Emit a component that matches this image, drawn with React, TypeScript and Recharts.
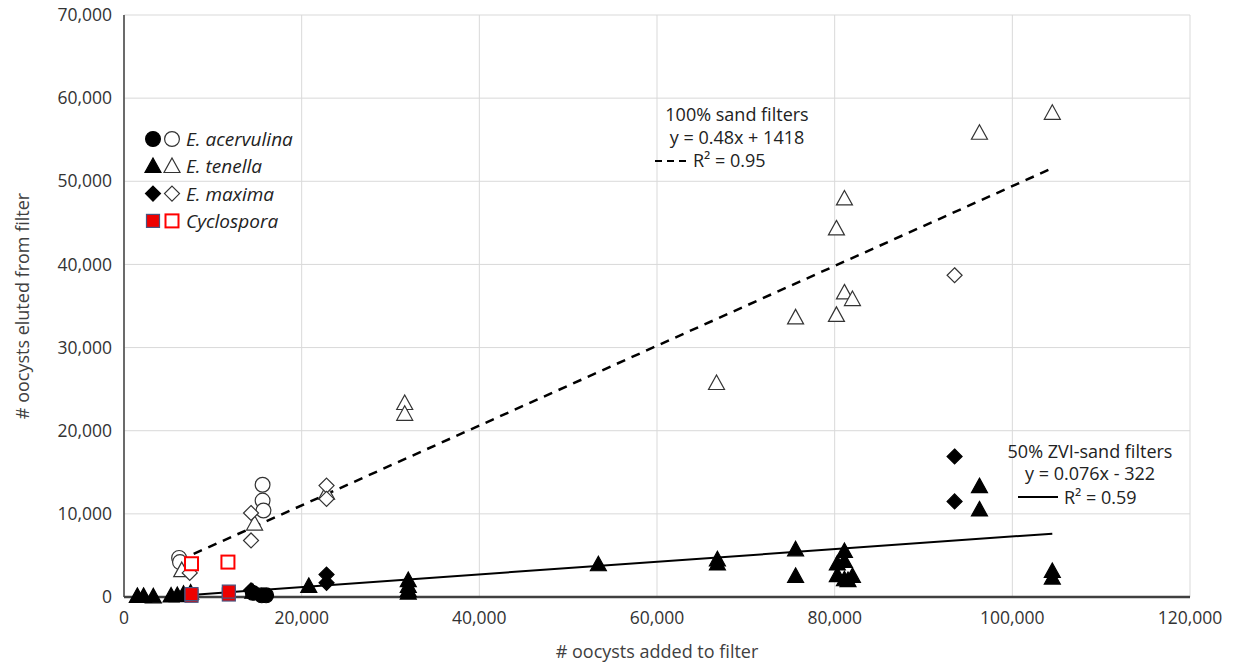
import React from 'react'
import {
  CartesianGrid,
  Label,
  Scatter,
  ScatterChart,
  XAxis,
  YAxis
} from 'recharts'

type Pt = [number, number]

// 100% sand filters (open markers)
const acervulinaSand: Pt[] = [[6200, 4700], [6300, 4200], [15600, 13500], [15600, 11600], [15700, 10400]]
const tenellaSand: Pt[] = [
  [6500, 3200], [14700, 8800], [22800, 12500], [31600, 23300], [31600, 22000],
  [66700, 25700], [75600, 33600], [80200, 44300], [80200, 33900], [81100, 47900],
  [81100, 36600], [82000, 35800], [96300, 55800], [104500, 58200]
]
const maximaSand: Pt[] = [[7400, 2900], [14300, 10100], [14300, 6800], [22800, 13400], [22800, 11800], [93500, 38700]]
const cyclosporaSand: Pt[] = [[7600, 4000], [11700, 4200]]

// 50% ZVI-sand filters (filled markers)
const acervulinaZvi: Pt[] = [[14500, 500], [15500, 200], [16000, 200]]
const tenellaZvi: Pt[] = [
  [1500, 100], [2200, 100], [3300, 50], [5300, 150], [6000, 200], [6700, 350], [7500, 500],
  [14500, 600], [20800, 1300], [32000, 2000], [32000, 1300], [32000, 800], [32000, 500],
  [53400, 3900], [66800, 4500], [66800, 4000], [75600, 5700], [75600, 2500],
  [80300, 4000], [80300, 2600], [81100, 5500], [81100, 4300], [81100, 2100], [81500, 2000],
  [82000, 2500], [96300, 13300], [96300, 10500], [104500, 3100], [104500, 2300]
]
const maximaZvi: Pt[] = [[14300, 800], [22800, 2700], [22800, 1700], [93500, 16900], [93500, 11500]]
const cyclosporaZvi: Pt[] = [[7600, 150], [7600, 350], [11800, 300], [11800, 650]]

// linear fits: slope, intercept, x range
const sandFit = { slope: 0.48, intercept: 1418, from: 6200, to: 104500, r2: '0.95' }
const zviFit = { slope: 0.076, intercept: -322, from: 6000, to: 104500, r2: '0.59' }

const xTicks = [0, 20000, 40000, 60000, 80000, 100000, 120000]
const yTicks = [0, 10000, 20000, 30000, 40000, 50000, 60000, 70000]

const species = ['E. acervulina', 'E. tenella', 'E. maxima', 'Cyclospora']

const W = 1239
const H = 668
const FONT = '"Open Sans", sans-serif'
const AXIS = '#404040'
const TICK = '#333'

const toRows = (pts: Pt[]) => pts.map(([x, y]) => ({ x, y }))
const fitRows = (f: typeof sandFit) => [f.from, f.to].map(x => ({ x, y: f.slope * x + f.intercept }))
const fmt = (v: number) => v.toLocaleString('en-US')

type Kind = 'circle' | 'triangle' | 'diamond' | 'square'

const Marker = ({ kind, cx, cy, filled }: { kind: Kind; cx: number; cy: number; filled: boolean }) => {
  const red = kind === 'square'
  const fill = filled ? (red ? '#ee0000' : '#000') : '#fff'
  const stroke = red ? (filled ? '#4a5580' : '#ff0000') : (filled ? '#000' : '#333')
  const sw = red && !filled ? 2 : 1.2
  if (kind === 'circle') return <circle cx={cx} cy={cy} r={7.4} fill={fill} stroke={stroke} strokeWidth={sw} />
  if (kind === 'triangle') {
    const p = `${cx},${cy - 8.3} ${cx + 8},${cy + 6.2} ${cx - 8},${cy + 6.2}`
    return <polygon points={p} fill={fill} stroke={stroke} strokeWidth={sw} />
  }
  if (kind === 'diamond') {
    const p = `${cx},${cy - 7.5} ${cx + 7.5},${cy} ${cx},${cy + 7.5} ${cx - 7.5},${cy}`
    return <polygon points={p} fill={fill} stroke={stroke} strokeWidth={sw} />
  }
  return <rect x={cx - 6.5} y={cy - 6.5} width={13} height={13} fill={fill} stroke={stroke} strokeWidth={sw} />
}

const shapeOf = (kind: Kind, filled: boolean) => (props: any) =>
  <Marker kind={kind} cx={props.cx} cy={props.cy} filled={filled} />

const kinds: Kind[] = ['circle', 'triangle', 'diamond', 'square']
const sandSets = [acervulinaSand, tenellaSand, maximaSand, cyclosporaSand]
const zviSets = [acervulinaZvi, tenellaZvi, maximaZvi, cyclosporaZvi]

const txt = { fontFamily: FONT, fill: '#222' }

// legend and fit equations, laid over the plot
const Overlay = () => (
  <svg width={W} height={H} style={{ position: 'absolute', left: 0, top: 0, pointerEvents: 'none' }}>
    {species.map((s, i) => {
      const y = 139 + i * 27.3
      return (
        <g key={s}>
          <Marker kind={kinds[i]} cx={153} cy={y} filled />
          <Marker kind={kinds[i]} cx={172} cy={y} filled={false} />
          <text x={186} y={y} dominantBaseline='central' fontSize={19} fontStyle='italic' {...txt}>{s}</text>
        </g>
      )
    })}
    <g fontSize={18} {...txt}>
      <text x={737} y={114} textAnchor='middle' dominantBaseline='central'>100% sand filters</text>
      <text x={737} y={137} textAnchor='middle' dominantBaseline='central'>
        y = {sandFit.slope}x + {sandFit.intercept}
      </text>
      <line x1={655} x2={691} y1={161} y2={161} stroke='#000' strokeWidth={2} strokeDasharray='7 5' />
      <text x={693} y={160} dominantBaseline='central'>R² = {sandFit.r2}</text>
      <text x={1090} y={451} textAnchor='middle' dominantBaseline='central'>50% ZVI-sand filters</text>
      <text x={1090} y={473} textAnchor='middle' dominantBaseline='central'>
        y = {zviFit.slope}x - {Math.abs(zviFit.intercept)}
      </text>
      <line x1={1018} x2={1058} y1={497} y2={497} stroke='#000' strokeWidth={1.8} />
      <text x={1064} y={497} dominantBaseline='central'>R² = {zviFit.r2}</text>
    </g>
  </svg>
)

export default function App() {
  return (
    <div style={{ position: 'absolute', left: 0, top: 0, width: W, height: H }}>
      <ScatterChart width={W} height={H} margin={{ top: 15, right: 49, left: 0, bottom: 0 }}>
        <CartesianGrid stroke='#d9d9d9' strokeWidth={1} horizontalValues={yTicks} verticalValues={xTicks} />
        <XAxis
          type='number'
          dataKey='x'
          domain={[0, 120000]}
          ticks={xTicks}
          tickFormatter={fmt}
          height={71}
          tickLine={false}
          tickSize={0}
          tickMargin={15}
          stroke={AXIS}
          strokeWidth={2.5}
          tick={{ fontFamily: FONT, fontSize: 17.5, fill: TICK }}
        >
          <Label
            content={({ viewBox }: any) => (
              <text x={viewBox.x + viewBox.width / 2} y={viewBox.y + 54} textAnchor='middle'
                dominantBaseline='central' fontSize={18} fontFamily={FONT} fill={AXIS}>
                # oocysts added to filter
              </text>
            )}
          />
        </XAxis>
        <YAxis
          type='number'
          dataKey='y'
          domain={[0, 70000]}
          ticks={yTicks}
          tickFormatter={fmt}
          width={124}
          tickLine={false}
          tickSize={0}
          tickMargin={12}
          stroke={AXIS}
          strokeWidth={1.5}
          tick={{ fontFamily: FONT, fontSize: 17.5, fill: TICK }}
        >
          <Label
            content={({ viewBox }: any) => {
              const cy = viewBox.y + viewBox.height / 2
              return (
                <text x={22} y={cy} transform={`rotate(-90 22 ${cy})`} textAnchor='middle'
                  dominantBaseline='central' fontSize={18} fontFamily={FONT} fill={AXIS}>
                  # oocysts eluted from filter
                </text>
              )
            }}
          />
        </YAxis>
        <Scatter data={fitRows(sandFit)} line={{ stroke: '#000', strokeWidth: 2.5, strokeDasharray: '9 7' }}
          lineType='joint' shape={() => <g />} isAnimationActive={false} />
        <Scatter data={fitRows(zviFit)} line={{ stroke: '#000', strokeWidth: 2 }}
          lineType='joint' shape={() => <g />} isAnimationActive={false} />
        {sandSets.map((set, i) => (
          <Scatter key={'s' + i} data={toRows(set)} shape={shapeOf(kinds[i], false)} isAnimationActive={false} />
        ))}
        {zviSets.map((set, i) => (
          <Scatter key={'z' + i} data={toRows(set)} shape={shapeOf(kinds[i], true)} isAnimationActive={false} />
        ))}
      </ScatterChart>
      <Overlay />
    </div>
  )
}
